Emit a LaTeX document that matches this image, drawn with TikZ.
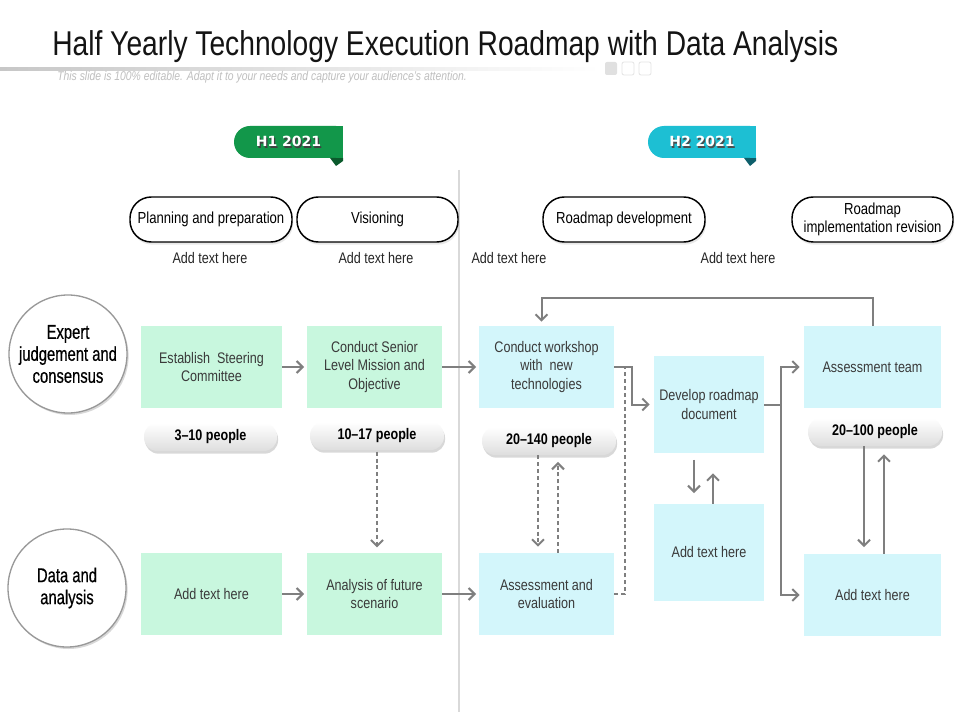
\documentclass[tikz,border=0pt]{standalone}
\usepackage{fontspec}
\setmainfont{Liberation Sans}[FakeStretch=0.82]
\newfontfamily\narrowfont{Liberation Sans}[FakeStretch=0.74, FakeBold=0.5]
\newfontfamily\tabfont{DejaVu Sans}
\usetikzlibrary{arrows.meta,shadows,calc}
\definecolor{boxgreen}{HTML}{C8F7DE}
\definecolor{boxcyan}{HTML}{D3F6FB}
\definecolor{hgreen}{HTML}{12974A}
\definecolor{hgreend}{HTML}{0B5A2C}
\definecolor{hcyan}{HTML}{1DBFD3}
\definecolor{hcyand}{HTML}{0E5F6B}
\definecolor{arrgray}{HTML}{7F7F7F}
\definecolor{txtgray}{HTML}{3A3A3A}
\tikzset{
  sz/.style 2 args={minimum width={#1*0.75pt}, minimum height={#2*0.75pt}},
  gbox/.style={rectangle, fill=boxgreen, draw=none, inner sep=1pt, align=center, text=txtgray, font=\fontsize{11.5}{14}\selectfont},
  cbox/.style={gbox, fill=boxcyan},
  pill/.style={rectangle, draw=black, line width=1.1pt, fill=white, rounded corners=16pt, align=center, inner sep=1pt,
     font=\fontsize{12}{13.5}\selectfont, drop shadow={shadow xshift=0.8pt, shadow yshift=-2pt, opacity=0.18}},
  people/.style={rectangle, rounded corners=10pt, top color=white, bottom color=black!13, draw=none, inner sep=1pt,
     font=\bfseries\fontsize{11.5}{13}\selectfont, drop shadow={shadow xshift=0.8pt, shadow yshift=-2pt, opacity=0.3}},
  circ/.style={circle, draw=black!40, line width=1pt, fill=white, minimum size={118*0.75pt}, inner sep=0pt, align=center,
     font=\narrowfont\fontsize{15}{16.5}\selectfont, drop shadow={shadow xshift=1.2pt, shadow yshift=-1.5pt, opacity=0.3}},
  lbl/.style={font=\fontsize{11.5}{13}\selectfont, text=black!85, inner sep=0pt},
  conn/.style={draw=arrgray, line width=1.5pt},
  arr/.style={conn, -{Straight Barb[length=4.5pt,width=9pt]}},
  dsh/.style={arr, dash pattern=on 3pt off 2.2pt},
  dshline/.style={conn, dash pattern=on 3pt off 2.2pt},
  tabtxt/.style={font=\tabfont\bfseries\fontsize{10.5}{12}\selectfont, inner sep=0pt}
}
\begin{document}
\begin{tikzpicture}[x=0.75pt,y=-0.75pt]
\useasboundingbox (0,0) rectangle (960,720);
\fill[white] (0,0) rectangle (960,720);

% title
\node[anchor=base west, inner sep=0pt, font=\fontsize{25.8}{28}\selectfont, text=black!92] (title) at (52,56) {Half Yearly Technology Execution Roadmap with Data Analysis};
\shade[left color=black!22, right color=white] (0,68) rectangle (600,70.5);
\fill[black!12, rounded corners=1.5pt] (605,62) rectangle (617,75);
\draw[black!10, line width=0.6pt, rounded corners=1.5pt] (622,62) rectangle (634,75);
\draw[black!10, line width=0.6pt, rounded corners=1.5pt] (639,62) rectangle (651,75);
\node[anchor=base west, inner sep=0pt, font=\itshape\fontsize{9.5}{11}\selectfont, text=black!25] (sub) at (57,81) {This slide is 100\% editable. Adapt it to your needs and capture your audience's attention.};

% divider
\draw[black!15, line width=0.8pt] (459,170) -- (459,712);

% tabs
\fill[hgreen] (336,126) [rounded corners=12pt] -- (234,126) -- (234,158) [sharp corners] -- (336,158) -- cycle;
\fill[hgreend] (330,158) -- (343,158) -- (343,161) -- (336,166) -- cycle;
\fill[hgreen] (336,126) rectangle (343,158);
\node[tabtxt, text=black!75] (h1s) at (289.8,143) {H1 2021};
\node[tabtxt, text=white] (h1) at (288.5,141.5) {H1 2021};
\fill[hcyan] (750,126) [rounded corners=12pt] -- (648,126) -- (648,158) [sharp corners] -- (750,158) -- cycle;
\fill[hcyand] (744,158) -- (756,158) -- (756,161) -- (750,166) -- cycle;
\fill[hcyan] (750,126) rectangle (756,158);
\node[tabtxt, text=black!70] (h2s) at (703.3,143) {H2 2021};
\node[tabtxt, text=white] (h2) at (702,141.5) {H2 2021};

% phase pills
\node[pill, sz={162}{45}] (ph1) at (211,219.5) {Planning and preparation};
\node[pill, sz={161}{45}] (ph2) at (377.5,219.5) {Visioning};
\node[pill, sz={162}{45}] (ph3) at (624,219.5) {Roadmap development};
\node[pill, sz={161}{45}] (ph4) at (872.5,219.5) {Roadmap\\implementation revision};

\node[lbl] (t1) at (210,258) {Add text here};
\node[lbl] (t2) at (376,258) {Add text here};
\node[lbl] (t3) at (509,258) {Add text here};
\node[lbl] (t4) at (738,258) {Add text here};

% circles
\node[circ] (c1) at (68,354) {Expert\\judgement and\\consensus};
\node[circ] (c2) at (67,588) {Data and\\analysis};

% row 1 boxes
\node[gbox, sz={141}{82}] (est) at (211.5,367) {Establish \ Steering\\Committee};
\node[gbox, sz={135}{82}] (sen) at (374.5,367) {Conduct Senior\\Level Mission and\\Objective};
\node[cbox, sz={135}{82}] (ws) at (546.5,367) {Conduct workshop\\with \ new\\technologies};
\node[cbox, sz={110}{97}] (dev) at (709,404.5) {Develop roadmap\\document};
\node[cbox, sz={137}{82}] (at) at (872.5,367) {Assessment team};

% row 2 boxes
\node[gbox, sz={141}{82}] (add1) at (211.5,594) {Add text here};
\node[gbox, sz={135}{82}] (ana) at (374.5,594) {Analysis of future\\scenario};
\node[cbox, sz={135}{82}] (eval) at (546.5,594) {Assessment and\\evaluation};
\node[cbox, sz={110}{97}] (addM) at (709,552.5) {Add text here};
\node[cbox, sz={137}{82}] (addR) at (872.5,595) {Add text here};

% people pills
\node[people, sz={133}{28}] (p1) at (210.5,437) {3--10 people};
\node[people, sz={134}{28}] (p2) at (377,436) {10--17 people};
\node[people, sz={134}{28}] (p3) at (549,441) {20--140 people};
\node[people, sz={134}{28}] (p4) at (875,432) {20--100 people};

% horizontal flow
\draw[arr, shorten >=2pt] (est) -- (sen);
\draw[arr, shorten >=2pt] (sen) -- (ws);
\draw[arr, shorten >=2pt] (add1) -- (ana);
\draw[arr, shorten >=2pt] (ana) -- (eval);
\draw[arr, shorten >=3pt] (ws.east) -- ++(18,0) |- (dev.west);
\coordinate (jn) at (625,367);
\draw[dshline] (eval.east) -| (jn);
\draw[conn] (dev.east) -- ++(17,0) coordinate (br);
\draw[arr, shorten >=3pt] (br) |- (at.west);
\draw[arr, shorten >=3pt] (br) |- (addR.west);
\draw[conn] (br |- at.west) -- (br |- addR.west);
\coordinate (wsin) at ($(ws.north)+(-5,0)$);
\draw[arr, shorten >=3pt] (at.north) -- ++(0,-28) -| (wsin);

% vertical links
\draw[dsh, shorten <=1pt, shorten >=4pt] (p2.south) -- (p2.south |- ana.north);
\coordinate (p3a) at ($(p3.south)+(-11,0)$);
\coordinate (p3b) at ($(p3.south)+(9,0)$);
\draw[dsh, shorten >=4.5pt] (p3a) -- (p3a |- eval.north);
\draw[dsh, shorten >=5pt] (p3b |- eval.north) -- (p3b);
\coordinate (da) at ($(dev.south)+(-15,0)$);
\coordinate (db) at ($(dev.south)+(4,0)$);
\draw[arr, shorten <=5pt, shorten >=8pt] (da) -- (da |- addM.north);
\draw[arr, shorten >=15pt] (db |- addM.north) -- (db);
\coordinate (pa) at ($(p4.south)+(-11,0)$);
\coordinate (pb) at ($(p4.south)+(9,0)$);
\draw[arr, shorten >=5pt] (pa) -- (pa |- addR.north);
\draw[arr, shorten >=6pt] (pb |- addR.north) -- (pb);
\end{tikzpicture}
\end{document}
